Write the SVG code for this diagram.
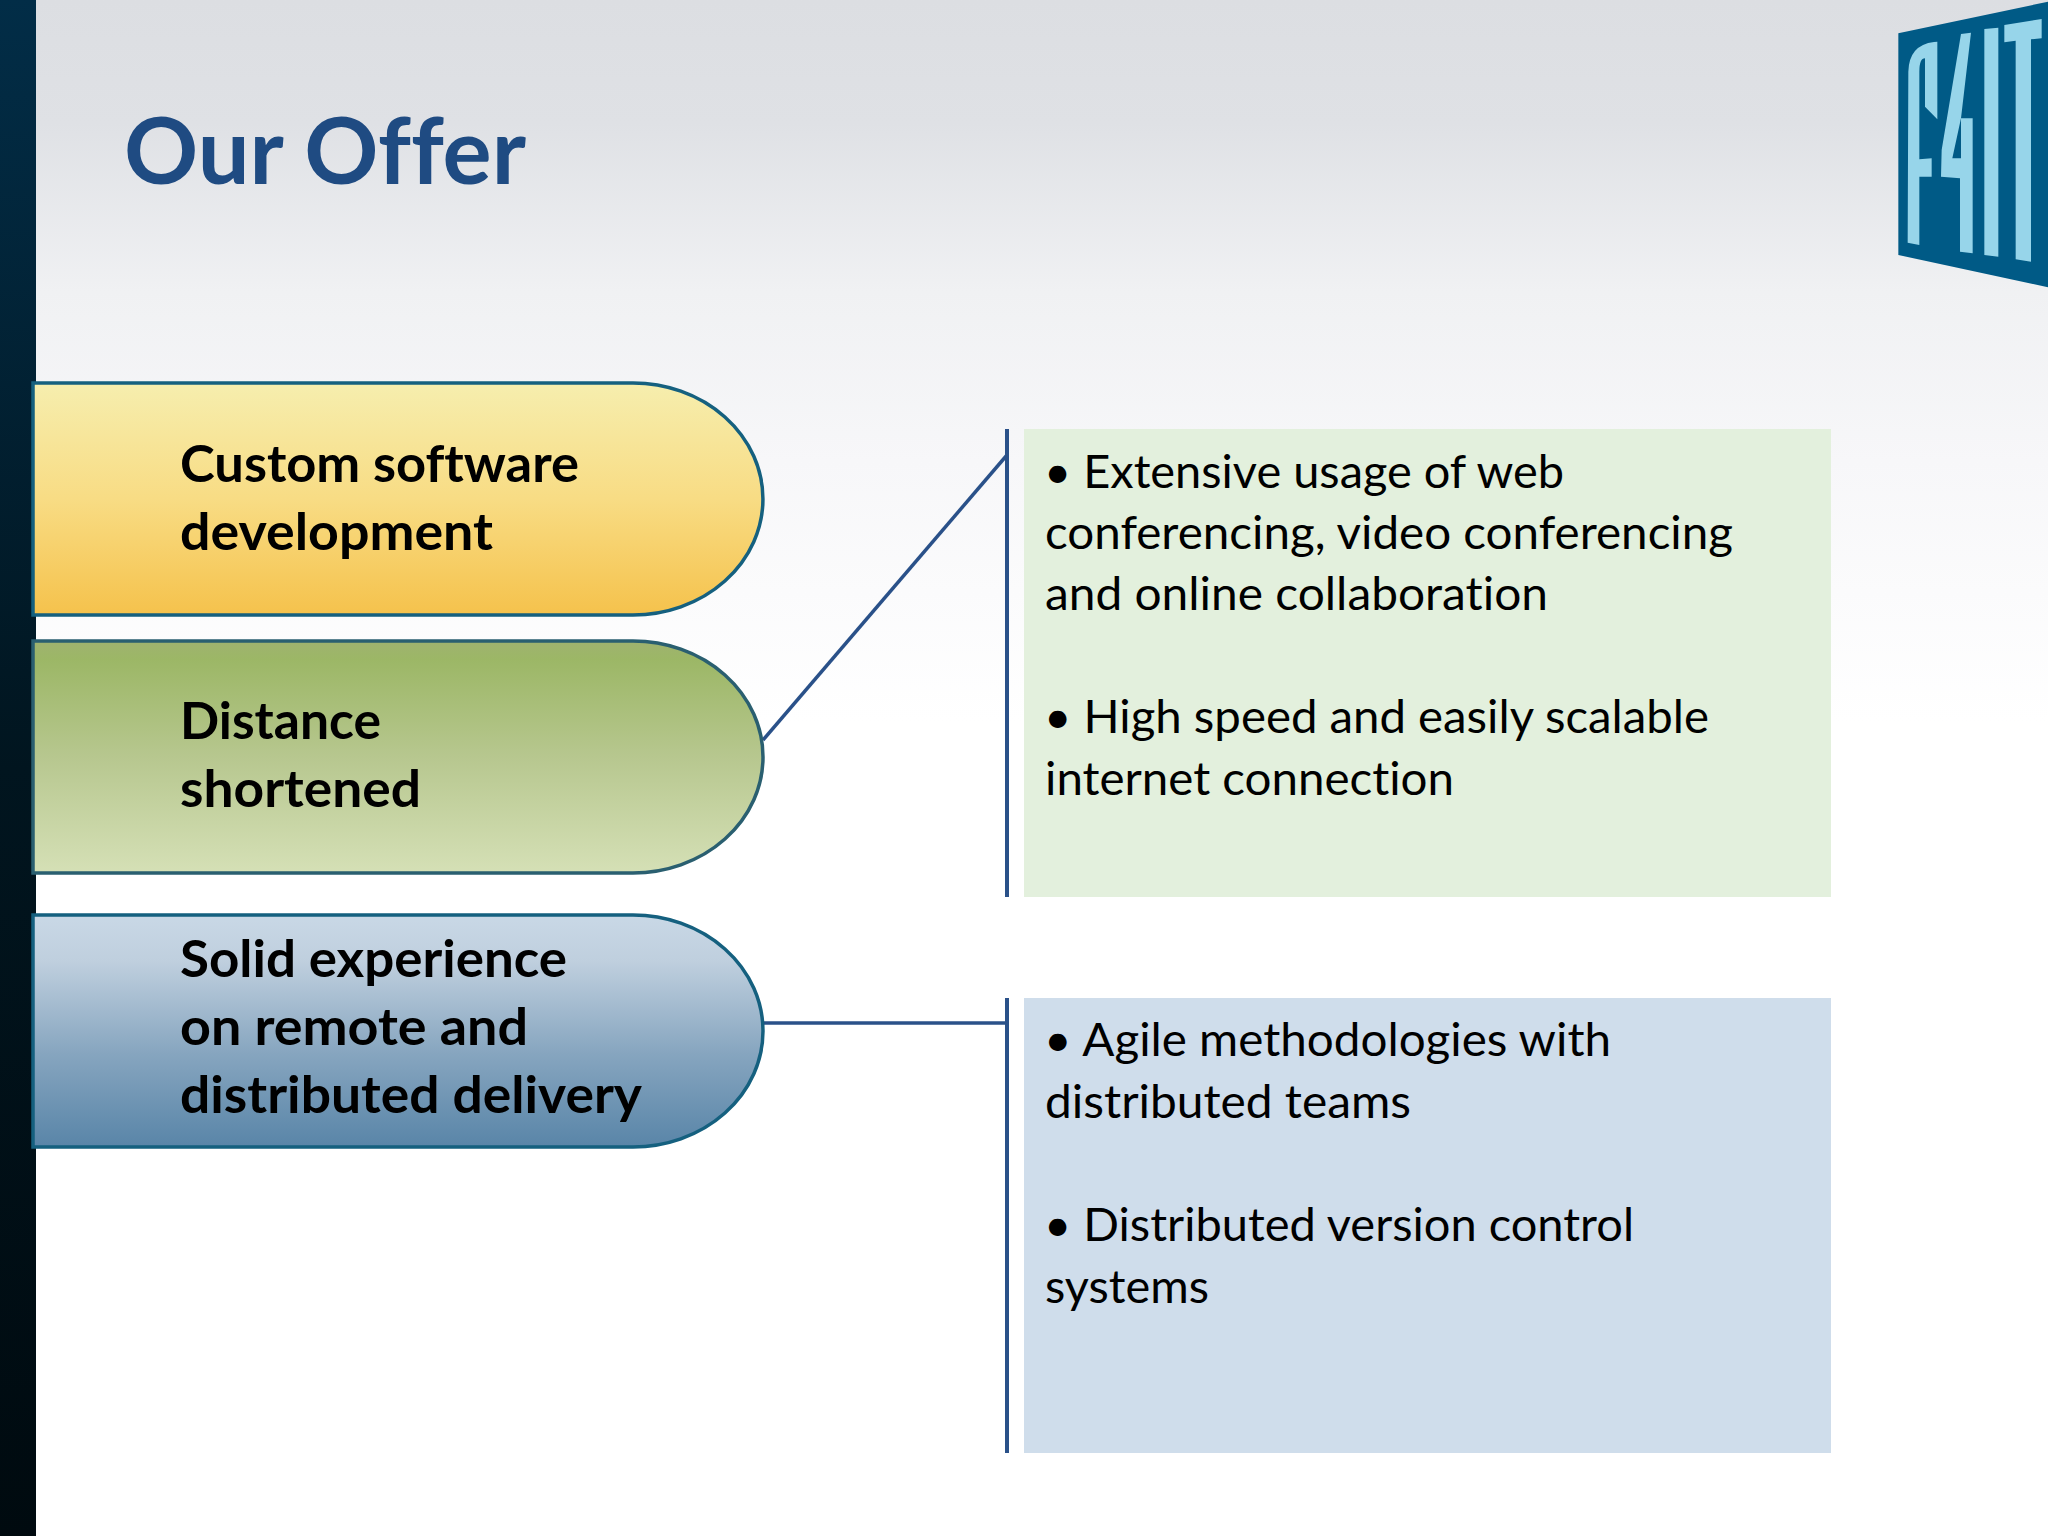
<svg xmlns="http://www.w3.org/2000/svg" width="2048" height="1536" viewBox="0 0 2048 1536">
<style>
text{font-variant-ligatures:none}
.t{font-family:"Lato","Liberation Sans",sans-serif;fill:#000}
.b{font-size:52px;font-weight:700}
.r{font-size:46px;font-weight:400}
.title{font-family:"Lato","Liberation Sans",sans-serif;font-size:92px;font-weight:700;fill:#1f4b82}
.conn{stroke:#2a5189;fill:none}
.pill{stroke-width:3.5}
.lg{fill:#97d5ea}
</style>
<defs>
<linearGradient id="bg" x1="0" y1="0" x2="0" y2="1"><stop offset="0" stop-color="#dcdee2"/><stop offset=".08" stop-color="#dfe1e5"/><stop offset=".19" stop-color="#f0f1f3"/><stop offset=".3" stop-color="#f7f7f9"/><stop offset=".47" stop-color="#fff"/><stop offset="1" stop-color="#fff"/></linearGradient>
<linearGradient id="side" x1="0" y1="0" x2="0" y2="1"><stop offset="0" stop-color="#022d47"/><stop offset=".5" stop-color="#01151f"/><stop offset="1" stop-color="#000a0f"/></linearGradient>
<linearGradient id="gy" x1="0" y1="0" x2="0" y2="1"><stop offset="0" stop-color="#f6eeae"/><stop offset=".5" stop-color="#f8dc84"/><stop offset="1" stop-color="#f5c24c"/></linearGradient>
<linearGradient id="gg" x1="0" y1="0" x2="0" y2="1"><stop offset="0" stop-color="#9fb26f"/><stop offset=".08" stop-color="#9cb766"/><stop offset=".5" stop-color="#b7c78f"/><stop offset="1" stop-color="#d5e0b6"/></linearGradient>
<linearGradient id="gb" x1="0" y1="0" x2="0" y2="1"><stop offset="0" stop-color="#c9d8e6"/><stop offset=".2" stop-color="#bfcfde"/><stop offset=".6" stop-color="#86a5bf"/><stop offset="1" stop-color="#5985a8"/></linearGradient>
</defs>
<rect id="background" width="2048" height="1536" fill="url(#bg)"/>
<rect id="sidebar" width="36" height="1536" fill="url(#side)"/>
<text id="title" class="title" x="124" y="184" textLength="402" lengthAdjust="spacingAndGlyphs">Our Offer</text>
<g id="logo" transform="translate(1860 0) scale(.33333)">
<polygon points="115,100 564,5 564,862 115,765" fill="#005a86"/>
<path class="lg" d="M143,728 L145,215 Q147,135 222,126 L232,125 L232,358 L195,320 L195,175 Q178,175 178,215 L178,478 L215,475 L215,530 L178,530 L178,735 Z"/>
<path class="lg" fill-rule="evenodd" d="M303,102 L333,98 L303,355 L338,355 L338,760 L300,755 L300,535 L243,530 L245,450 Z M303,355 L277,475 L303,475 Z"/>
<polygon class="lg" points="373,87 415,83 415,770 373,765"/>
<polygon class="lg" points="433,75 545,57 545,115 513,118 513,785 467,778 467,122 433,127"/>
</g>
<g id="connectors">
<line class="conn" stroke-width="3.5" x1="763" y1="740" x2="1007" y2="455"/>
<line class="conn" stroke-width="3.5" x1="763" y1="1023" x2="1007" y2="1023"/>
<line class="conn" stroke-width="4" x1="1007" y1="429" x2="1007" y2="897"/>
<line class="conn" stroke-width="4" x1="1007" y1="998" x2="1007" y2="1453"/>
</g>
<g id="node-custom">
<path class="pill" d="M33,383 H633 A130,116 0 0 1 633,615 H33 Z" fill="url(#gy)" stroke="#15607f"/>
<text class="t b" x="180" y="482" textLength="399" lengthAdjust="spacingAndGlyphs">Custom software</text>
<text class="t b" x="180" y="550" textLength="313" lengthAdjust="spacingAndGlyphs">development</text>
</g>
<g id="node-distance">
<path class="pill" d="M33,641 H633 A130,116 0 0 1 633,873 H33 Z" fill="url(#gg)" stroke="#2a5f70"/>
<text class="t b" x="180" y="739" textLength="201" lengthAdjust="spacingAndGlyphs">Distance</text>
<text class="t b" x="180" y="807" textLength="241" lengthAdjust="spacingAndGlyphs">shortened</text>
</g>
<g id="node-solid">
<path class="pill" d="M33,915 H633 A130,116 0 0 1 633,1147 H33 Z" fill="url(#gb)" stroke="#15607f"/>
<text class="t b" x="180" y="977" textLength="387" lengthAdjust="spacingAndGlyphs">Solid experience</text>
<text class="t b" x="180" y="1045" textLength="348" lengthAdjust="spacingAndGlyphs">on remote and</text>
<text class="t b" x="180" y="1113" textLength="462" lengthAdjust="spacingAndGlyphs">distributed delivery</text>
</g>
<g id="box-green">
<rect x="1024" y="429" width="807" height="468" fill="#e3f0dd"/>
<text class="t r" x="1044" y="488" textLength="520" lengthAdjust="spacingAndGlyphs">• Extensive usage of web</text>
<text class="t r" x="1045" y="549" textLength="688" lengthAdjust="spacingAndGlyphs">conferencing, video conferencing</text>
<text class="t r" x="1045" y="610" textLength="503" lengthAdjust="spacingAndGlyphs">and online collaboration</text>
<text class="t r" x="1044" y="733" textLength="665" lengthAdjust="spacingAndGlyphs">• High speed and easily scalable</text>
<text class="t r" x="1045" y="795" textLength="409" lengthAdjust="spacingAndGlyphs">internet connection</text>
</g>
<g id="box-blue">
<rect x="1024" y="998" width="807" height="455" fill="#cfddeb"/>
<text class="t r" x="1044" y="1056" textLength="567" lengthAdjust="spacingAndGlyphs">• Agile methodologies with</text>
<text class="t r" x="1045" y="1118" textLength="366" lengthAdjust="spacingAndGlyphs">distributed teams</text>
<text class="t r" x="1044" y="1241" textLength="590" lengthAdjust="spacingAndGlyphs">• Distributed version control</text>
<text class="t r" x="1045" y="1303" textLength="164" lengthAdjust="spacingAndGlyphs">systems</text>
</g>
</svg>
